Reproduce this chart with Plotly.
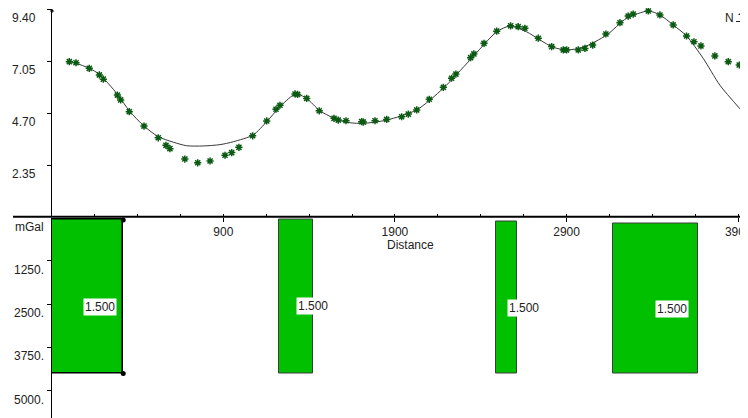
import plotly.graph_objects as go

# ---------------- data ----------------
dist_obs = [3, 42, 119, 178, 201, 283, 302, 352, 438, 521, 566, 589, 676, 751, 823,
            910, 949, 991, 1071, 1153, 1207, 1230, 1318, 1333, 1386, 1459, 1545, 1570,
            1615, 1706, 1716, 1784, 1852, 1939, 1978, 2027, 2100, 2182, 2230, 2255,
            2341, 2360, 2419, 2493, 2574, 2618, 2657, 2735, 2813, 2881, 2900, 2968,
            3007, 3052, 3129, 3211, 3259, 3288, 3376, 3444, 3521, 3599, 3642, 3683,
            3764, 3842, 3906, 3927]
grav_obs = [7.02, 6.97, 6.72, 6.42, 6.23, 5.51, 5.29, 4.76, 4.11, 3.58, 3.24, 3.09, 2.62,
            2.45, 2.53, 2.79, 2.91, 3.15, 3.67, 4.34, 4.87, 5.05, 5.56, 5.54, 5.36, 4.80,
            4.46, 4.38, 4.35, 4.31, 4.29, 4.35, 4.41, 4.53, 4.65, 4.84, 5.32, 5.86, 6.27,
            6.46, 7.20, 7.37, 7.85, 8.40, 8.64, 8.60, 8.53, 8.08, 7.70, 7.55, 7.55, 7.55,
            7.62, 7.77, 8.27, 8.78, 9.08, 9.17, 9.31, 9.13, 8.68, 8.18, 7.92, 7.73, 7.28,
            7.02, 6.87, 6.84]

dist_calc = [0, 42, 119, 178, 283, 352, 438, 521, 609, 687, 783, 881, 958, 1075, 1153,
             1230, 1308, 1337, 1386, 1463, 1570, 1638, 1714, 1852, 2027, 2182, 2337,
             2493, 2570, 2667, 2745, 2822, 2900, 2997, 3133, 3250, 3376, 3444, 3521,
             3599, 3696, 3793, 3916]
grav_calc = [7.05, 6.95, 6.72, 6.45, 5.55, 4.80, 4.11, 3.63, 3.38, 3.22, 3.21, 3.27, 3.40,
             3.71, 4.31, 4.98, 5.51, 5.54, 5.36, 4.80, 4.38, 4.26, 4.23, 4.38, 4.84, 5.82,
             7.09, 8.37, 8.63, 8.37, 8.00, 7.67, 7.55, 7.67, 8.22, 8.98, 9.31, 9.13, 8.68,
             8.18, 7.17, 5.96, 4.84]

bar_left = [-150, 1226, 2490, 3168]
bar_right = [317, 1421, 2612, 3667]
bar_top = [70, 50, 120, 180]
bar_bottom = [4500, 4500, 4500, 4500]
bar_label = ["1.500", "1.500", "1.500", "1.500"]

x_tickvals = [900, 1900, 2900, 3900]
x_ticktext = ["900", "1900", "2900", "3900"]
grav_tickvals = [2.35, 4.70, 7.05, 9.40]
grav_ticktext = ["2.35", "4.70", "7.05", "9.40"]
depth_tickvals = [0, 1250, 2500, 3750, 5000]
depth_ticktext = ["mGal", "1250.", "2500.", "3750.", "5000."]

# ---------------- geometry ----------------
# the page body has an 8px default margin, so the figure starts at (8, 8)
OFF = 8
W, H = 748 - OFF, 418 - OFF
def px(x):
    return (x - OFF) / W
def py(y):
    return 1 - (y - OFF) / H

FONT = "Liberation Sans, Arial, sans-serif"

fig = go.Figure()

# model curve
fig.add_trace(go.Scatter(
    x=dist_calc, y=grav_calc, mode="lines",
    line=dict(color="#3a3a3a", width=1, shape="spline", smoothing=0.7),
    xaxis="x", yaxis="y", hoverinfo="skip", showlegend=False))

# observed points
fig.add_trace(go.Scatter(
    x=dist_obs, y=grav_obs, mode="markers",
    marker=dict(symbol="asterisk-open", size=6, color="#0b5a12",
                line=dict(color="#0b5a12", width=1.5)),
    xaxis="x", yaxis="y", showlegend=False, cliponaxis=False))

# bodies (bars)
centers = [(l + r) / 2 for l, r in zip(bar_left, bar_right)]
widths = [r - l for l, r in zip(bar_left, bar_right)]
heights = [b - t for t, b in zip(bar_top, bar_bottom)]
line_cols = ["#000000"] + ["#3c3c3c"] * (len(bar_left) - 1)
line_ws = [1.6] + [1] * (len(bar_left) - 1)
fig.add_trace(go.Bar(
    x=centers, y=heights, base=bar_top, width=widths,
    marker=dict(color="#00c000", line=dict(color=line_cols, width=line_ws)),
    xaxis="x", yaxis="y2", showlegend=False, hoverinfo="skip"))

# selection dots on the first body
fig.add_trace(go.Scatter(
    x=[bar_right[0], bar_right[0]], y=[bar_top[0], bar_bottom[0]], mode="markers",
    marker=dict(color="black", size=5), xaxis="x", yaxis="y2",
    showlegend=False, cliponaxis=False))

annotations = []
for c, t, b, lab in zip(centers, bar_top, bar_bottom, bar_label):
    annotations.append(dict(
        x=c, y=(t + b) / 2, xref="x", yref="y2", text=lab, showarrow=False,
        xanchor="left", yanchor="top", yshift=-1, bgcolor="white", borderpad=1,
        font=dict(family=FONT, size=12, color="#222")))

for v, t in zip(grav_tickvals, grav_ticktext):
    annotations.append(dict(
        x=px(38), y=v, xref="paper", yref="y", text=t, showarrow=False,
        xanchor="right", yanchor="middle", yshift=-9,
        font=dict(family=FONT, size=12, color="#222")))
for v, t in zip(depth_tickvals, depth_ticktext):
    annotations.append(dict(
        x=px(46), y=v, xref="paper", yref="y2", text=t, showarrow=False,
        xanchor="right", yanchor="middle", yshift=-9,
        font=dict(family=FONT, size=12, color="#222")))

annotations.append(dict(
    x=px(410), y=py(245), xref="paper", yref="paper", text="Distance",
    showarrow=False, xanchor="center", yanchor="middle",
    font=dict(family=FONT, size=12, color="#222")))

# north arrow
annotations.append(dict(
    x=px(729), y=py(18), xref="paper", yref="paper", text="N",
    showarrow=False, xanchor="center", yanchor="middle",
    font=dict(family=FONT, size=12, color="#222")))
annotations.append(dict(
    x=px(741), y=py(12), xref="paper", yref="paper", text="", showarrow=True,
    ax=0, ay=19, arrowhead=1, arrowsize=1, arrowwidth=1, arrowcolor="#222"))
# y-axis arrow tip
annotations.append(dict(
    x=px(52), y=py(8.5), xref="paper", yref="paper", text="", showarrow=True,
    ax=0, ay=6, arrowhead=1, arrowsize=0.8, arrowwidth=1, arrowcolor="black"))

shapes = [
    dict(type="line", xref="paper", yref="paper", x0=px(13), x1=1, y0=py(216.8),
         y1=py(216.8), line=dict(color="black", width=2)),
    dict(type="line", xref="paper", yref="paper", x0=px(736), x1=px(746), y0=py(21.5),
         y1=py(21.5), line=dict(color="#222", width=1)),
]

fig.update_layout(
    width=W, height=H,
    margin=dict(l=0, r=0, t=0, b=0, autoexpand=False),
    paper_bgcolor="white", plot_bgcolor="rgba(0,0,0,0)",
    bargap=0,
    font=dict(family=FONT, size=12, color="#222"),
    xaxis=dict(
        domain=[px(52), 1], range=[-98, 3957], anchor="y", automargin=False,
        tickmode="array", tickvals=x_tickvals, ticktext=x_ticktext,
        ticks="outside", ticklen=4, tickcolor="black", tickwidth=1,
        ticklabeloverflow="allow",
        minor=dict(tickmode="linear", tick0=-100, dtick=250, ticks="inside",
                   ticklen=3, tickcolor="black"),
        showline=False, showgrid=False, zeroline=False,
        tickfont=dict(family=FONT, size=12, color="#222")),
    yaxis=dict(
        domain=[py(217), py(9)], range=[0, 9.40], anchor="x", automargin=False,
        tickmode="array", tickvals=grav_tickvals, showticklabels=False,
        ticks="outside", ticklen=4, tickcolor="black",
        showline=True, linecolor="black", linewidth=1.2,
        showgrid=False, zeroline=False),
    yaxis2=dict(
        domain=[0, py(217.5)], range=[5784, 0], anchor="x", automargin=False,
        tickmode="array", tickvals=depth_tickvals[1:], showticklabels=False,
        ticks="outside", ticklen=4, tickcolor="black",
        showline=True, linecolor="black", linewidth=1.2,
        showgrid=False, zeroline=False),
    annotations=annotations,
    shapes=shapes,
)

fig.write_html("out.html")
